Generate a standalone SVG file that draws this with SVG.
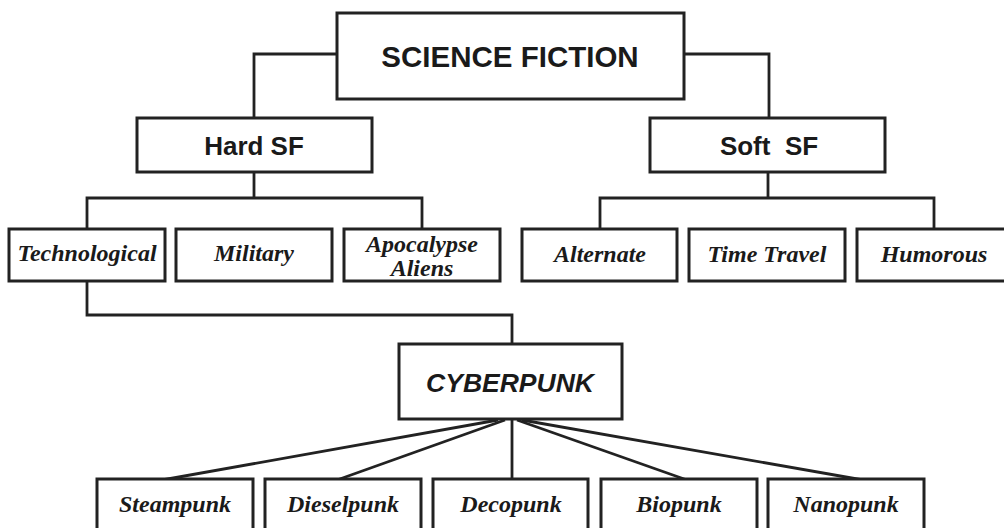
<svg xmlns="http://www.w3.org/2000/svg" width="1004" height="528" viewBox="0 0 1004 528">
<style>
.box{fill:#fff;stroke:#222;stroke-width:3}
.ln{fill:none;stroke:#222;stroke-width:2.8;stroke-linejoin:miter}
.sans{font-family:"Liberation Sans",Arial,sans-serif;font-weight:bold;fill:#1a1a1a;text-anchor:middle}
.ser{font-family:"Liberation Serif","Times New Roman",serif;font-weight:bold;font-style:italic;fill:#1a1a1a;text-anchor:middle;font-size:24px}
</style>
<rect width="1004" height="528" fill="#fff"/>
<g id="connectors">
<polyline class="ln" points="337,54 254,54 254,118"/>
<polyline class="ln" points="684,54 769,54 769,118"/>
<line class="ln" x1="254" y1="172" x2="254" y2="198"/>
<polyline class="ln" points="87,229 87,198 422,198 422,229"/>
<line class="ln" x1="768" y1="172" x2="768" y2="198"/>
<polyline class="ln" points="600,229 600,198 934,198 934,229"/>
<polyline class="ln" points="87,281 87,315 512,315 512,344"/>
<line class="ln" x1="498" y1="420" x2="162" y2="480"/>
<line class="ln" x1="505" y1="420" x2="337" y2="480"/>
<line class="ln" x1="512" y1="420" x2="512" y2="480"/>
<line class="ln" x1="517" y1="420" x2="687" y2="480"/>
<line class="ln" x1="522" y1="420" x2="863" y2="480"/>
</g>
<g id="science-fiction"><rect class="box" x="337" y="13" width="347" height="86"/><text class="sans" x="510" y="67" font-size="29.5">SCIENCE FICTION</text></g>
<g id="hard-sf"><rect class="box" x="137" y="118" width="235" height="54"/><text class="sans" x="254" y="155" font-size="26">Hard SF</text></g>
<g id="soft-sf"><rect class="box" x="650" y="118" width="235" height="54"/><text class="sans" x="769" y="155" font-size="26" xml:space="preserve">Soft  SF</text></g>
<g id="technological"><rect class="box" x="9" y="229" width="156" height="52"/><text class="ser" x="87" y="261">Technological</text></g>
<g id="military"><rect class="box" x="176" y="229" width="156" height="52"/><text class="ser" x="254" y="261">Military</text></g>
<g id="apocalypse-aliens"><rect class="box" x="344" y="229" width="156" height="52"/><text class="ser" x="422" y="252">Apocalypse</text><text class="ser" x="422" y="276">Aliens</text></g>
<g id="alternate"><rect class="box" x="522" y="229" width="155" height="52"/><text class="ser" x="600" y="262">Alternate</text></g>
<g id="time-travel"><rect class="box" x="689" y="229" width="156" height="52"/><text class="ser" x="767" y="262">Time Travel</text></g>
<g id="humorous"><rect class="box" x="857" y="229" width="154" height="52"/><text class="ser" x="934" y="262">Humorous</text></g>
<g id="cyberpunk"><rect class="box" x="399" y="344" width="223" height="75"/><text class="sans" x="510" y="392" font-size="26.5" font-style="italic">CYBERPUNK</text></g>
<g id="steampunk"><rect class="box" x="97" y="479" width="156" height="70"/><text class="ser" x="175" y="512">Steampunk</text></g>
<g id="dieselpunk"><rect class="box" x="265" y="479" width="156" height="70"/><text class="ser" x="343" y="512">Dieselpunk</text></g>
<g id="decopunk"><rect class="box" x="433" y="479" width="155" height="70"/><text class="ser" x="511" y="512">Decopunk</text></g>
<g id="biopunk"><rect class="box" x="601" y="479" width="156" height="70"/><text class="ser" x="679" y="512">Biopunk</text></g>
<g id="nanopunk"><rect class="box" x="768" y="479" width="156" height="70"/><text class="ser" x="846" y="512">Nanopunk</text></g>
</svg>
